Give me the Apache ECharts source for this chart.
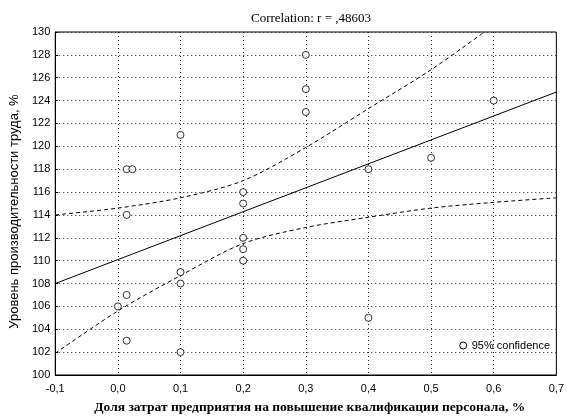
<!DOCTYPE html>
<html>
<head>
<meta charset="utf-8">
<script src="https://cdn.jsdelivr.net/npm/echarts@6/dist/echarts.min.js"></script>
<style>
  html, body { margin: 0; padding: 0; background: #fff; }
  #chart { width: 567px; height: 420px; }
</style>
</head>
<body>
<div id="chart"></div>
<script>
// наблюдения: доля затрат на квалификацию (x) и уровень производительности (y)
const costShare = [0.0, 0.014, 0.014, 0.014, 0.014, 0.023, 0.1, 0.1, 0.1, 0.1, 0.2, 0.2, 0.2, 0.2, 0.2, 0.3, 0.3, 0.3, 0.4, 0.4, 0.5, 0.6];
const productivity = [106, 107, 103, 114, 118, 118, 121, 109, 108, 102, 116, 115, 112, 111, 110, 128, 125, 123, 118, 105, 119, 124];

// линия регрессии (концы)
const fitX = [-0.1, 0.7];
const fitY = [108.0, 124.75];

// 95% доверительные границы
const upperX = [-0.1, 0.0, 0.1, 0.2, 0.3, 0.4, 0.5, 0.585];
const upperY = [114.0, 114.6, 115.5, 117.0, 119.9, 123.3, 126.7, 130.0];
const lowerX = [-0.1, 0.0, 0.1, 0.2, 0.3, 0.4, 0.5, 0.6, 0.7];
const lowerY = [101.9, 105.6, 108.7, 111.5, 112.9, 113.8, 114.6, 115.1, 115.5];

const zip = (xs, ys) => xs.map((x, i) => [x, ys[i]]);

const chart = echarts.init(document.getElementById('chart'));

const dotted = { type: [1, 3], color: '#222', width: 1 };
const bandStyle = { color: '#000', width: 1, type: [4, 3] };

chart.setOption({
  animation: false,
  title: {
    text: 'Correlation: r = ,48603',
    left: 306,
    top: 7,
    textAlign: 'center',
    textStyle: { fontFamily: 'Liberation Serif', fontSize: 13, fontWeight: 'normal', color: '#000' },
  },
  legend: {
    right: 12,
    top: 335,
    icon: 'circle',
    itemWidth: 7,
    itemHeight: 7,
    itemGap: 4,
    data: ['95% confidence'],
    itemStyle: { color: '#fff', borderColor: '#000', borderWidth: 1 },
    textStyle: { fontFamily: 'Liberation Sans', fontSize: 11, color: '#000' },
  },
  grid: { left: 53, right: 7, top: 32, bottom: 42, show: true, borderColor: '#000', borderWidth: 1 },
  xAxis: {
    type: 'value',
    min: -0.1,
    max: 0.7,
    interval: 0.1,
    name: 'Доля затрат предприятия на повышение квалификации персонала, %',
    nameLocation: 'middle',
    nameGap: 26,
    nameTextStyle: { fontFamily: 'Liberation Serif', fontSize: 13.5, fontWeight: 'bold', color: '#000', padding: [0, 0, 0, 8] },
    axisLine: { onZero: false, lineStyle: { color: '#000' } },
    axisTick: { show: false },
    axisLabel: {
      margin: 8,
      fontFamily: 'Liberation Sans', fontSize: 11, color: '#000',
      formatter: v => v.toFixed(1).replace('.', ','),
    },
    splitLine: { lineStyle: dotted },
  },
  yAxis: {
    type: 'value',
    min: 100,
    max: 130,
    interval: 2,
    name: 'Уровень производительности труда, %',
    nameLocation: 'middle',
    nameGap: 33,
    nameTextStyle: { fontFamily: 'Liberation Sans', fontSize: 13, color: '#000', padding: [0, 16, 0, 0] },
    axisLine: { show: true, onZero: false, lineStyle: { color: '#000' } },
    axisTick: { show: true, inside: true, length: 3, lineStyle: { color: '#000' } },
    axisLabel: { margin: 5, fontFamily: 'Liberation Sans', fontSize: 11, color: '#000' },
    splitLine: { lineStyle: dotted },
  },
  series: [
    {
      name: 'points',
      type: 'scatter',
      data: zip(costShare, productivity),
      symbol: 'circle',
      symbolSize: 7,
      itemStyle: { color: '#fff', borderColor: '#000', borderWidth: 1 },
      z: 5,
    },
    {
      name: 'fit',
      type: 'line',
      data: zip(fitX, fitY),
      showSymbol: false,
      lineStyle: { color: '#000', width: 1 },
    },
    {
      name: '95% confidence',
      type: 'line',
      data: zip(upperX, upperY),
      smooth: 0.3,
      showSymbol: false,
      itemStyle: { color: '#000' },
      lineStyle: bandStyle,
    },
    {
      name: '95% confidence',
      type: 'line',
      data: zip(lowerX, lowerY),
      smooth: 0.3,
      showSymbol: false,
      itemStyle: { color: '#000' },
      lineStyle: bandStyle,
    },
  ],
});
</script>
</body>
</html>
